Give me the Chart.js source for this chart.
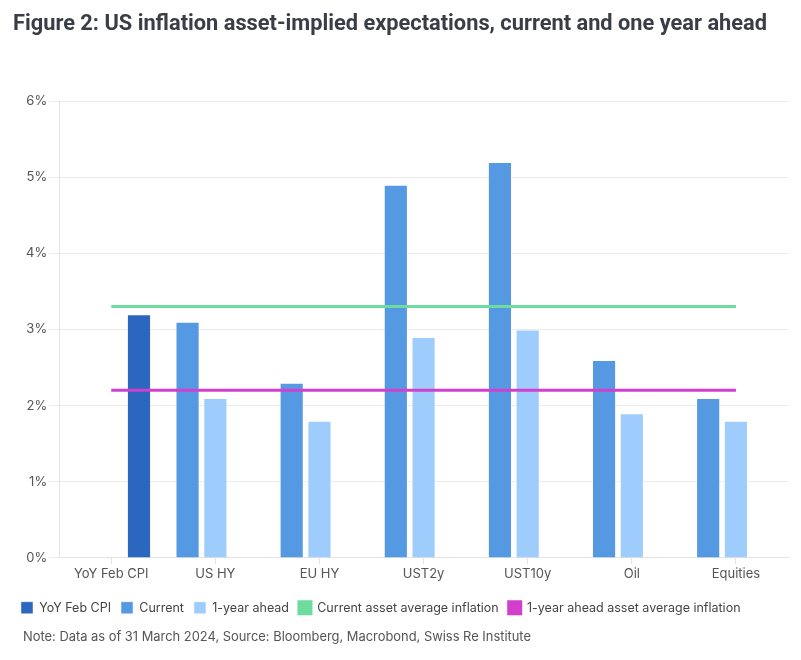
<!DOCTYPE html>
<html>
<head>
<meta charset="utf-8">
<script src="https://cdn.jsdelivr.net/npm/chart.js@4.4.1/dist/chart.umd.min.js"></script>
<style>
  body { margin: 0; background: #fff; }
  #wrap { position: relative; width: 801px; height: 660px; }
  #title { position: absolute; left: 13px; top: 12px; font: bold 21.8px/22px Roboto, "Liberation Sans", sans-serif; color: #3a3d45; white-space: nowrap; }
  #note { position: absolute; left: 23px; top: 629px; font: 12.9px Inter, "Noto Sans", sans-serif; color: #555; white-space: nowrap; }
  #chartBox { position: absolute; left: 0; top: 0; width: 801px; height: 660px; }
</style>
</head>
<body>
<div id="wrap">
  <div id="chartBox"><canvas id="myChart"></canvas></div>
  <div id="title">Figure 2: US inflation asset-implied expectations, current and one year ahead</div>
  <div id="note">Note: Data as of 31 March 2024, Source: Bloomberg, Macrobond, Swiss Re Institute</div>
</div>
<script>
// categories and values
const categories = ['YoY Feb CPI', 'US HY', 'EU HY', 'UST2y', 'UST10y', 'Oil', 'Equities'];
const cpiValues = [3.2, null, null, null, null, null, null];
const currentValues = [null, 3.1, 2.3, 4.9, 5.2, 2.6, 2.1];
const aheadValues = [null, 2.1, 1.8, 2.9, 3.0, 1.9, 1.8];
const currentAvg = [3.3, 3.3, 3.3, 3.3, 3.3, 3.3, 3.3];
const aheadAvg = [2.2, 2.2, 2.2, 2.2, 2.2, 2.2, 2.2];
const yTicks = [0, 1, 2, 3, 4, 5, 6];

const tickFont = { family: 'Inter, "Noto Sans", sans-serif', size: 13 };

const ctx = document.getElementById('myChart').getContext('2d');
new Chart(ctx, {
  type: 'bar',
  data: {
    labels: categories,
    datasets: [
      {
        label: 'YoY Feb CPI',
        data: cpiValues,
        backgroundColor: '#2b66bf',
        borderColor: 'rgba(255,255,255,0.45)',
        borderWidth: 1,
        order: 3, // CPI bar sits in the right slot of its group
      },
      {
        label: 'Current',
        data: currentValues,
        backgroundColor: '#5599e3',
        borderColor: 'rgba(255,255,255,0.45)',
        borderWidth: 1,
        order: 1,
      },
      {
        label: '1-year ahead',
        data: aheadValues,
        backgroundColor: '#9ecdfd',
        borderColor: 'rgba(255,255,255,0.45)',
        borderWidth: 1,
        order: 2,
      },
      {
        type: 'line',
        label: 'Current asset average inflation',
        data: currentAvg,
        borderColor: '#6fdc9f',
        backgroundColor: '#6fdc9f',
        borderWidth: 3,
        pointRadius: 0,
        order: 0,
      },
      {
        type: 'line',
        label: '1-year ahead asset average inflation',
        data: aheadAvg,
        borderColor: '#d13fcc',
        backgroundColor: '#d13fcc',
        borderWidth: 3,
        pointRadius: 0,
        order: 0,
      },
    ],
  },
  options: {
    responsive: true,
    maintainAspectRatio: false,
    animation: false,
    layout: { padding: { top: 101, left: 11, right: 13, bottom: 36 } },
    datasets: {
      bar: { categoryPercentage: 0.8, barPercentage: 0.87 },
    },
    plugins: {
      tooltip: { enabled: false },
      legend: {
        position: 'bottom',
        align: 'start',
        labels: {
          boxWidth: 12,
          boxHeight: 12,
          padding: 10,
          color: '#444',
          font: { family: 'Inter, "Noto Sans", sans-serif', size: 12.5 },
          // keep legend in dataset order, not draw order
          sort: (a, b) => a.datasetIndex - b.datasetIndex,
        },
      },
    },
    scales: {
      x: {
        grid: { display: true, offset: false, drawOnChartArea: false, drawTicks: true, tickLength: 6, color: '#e3e3e3' },
        border: { color: '#e3e3e3' },
        ticks: { color: '#555', font: tickFont, padding: 2 },
        afterFit: (axis) => { axis.height += 8; },
      },
      y: {
        min: 0,
        max: 6,
        afterBuildTicks: (axis) => { axis.ticks = yTicks.map((v) => ({ value: v })); },
        grid: { color: '#ebebeb', drawTicks: true, tickLength: 10 },
        border: { color: '#e3e3e3' },
        ticks: {
          color: '#555',
          font: tickFont,
          padding: 2,
          callback: (v) => v + '%',
        },
        afterFit: (axis) => { axis.width += 13; },
      },
    },
  },
});
</script>
</body>
</html>
